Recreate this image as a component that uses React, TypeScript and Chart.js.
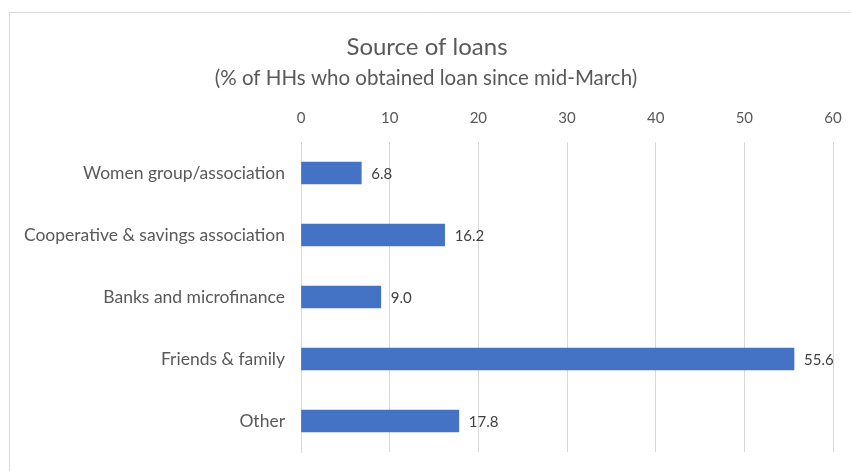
import React, { useEffect, useRef } from "react";
import { Chart, registerables } from "chart.js";

Chart.register(...registerables);

const categories = [
  "Women group/association",
  "Cooperative & savings association",
  "Banks and microfinance",
  "Friends & family",
  "Other",
];
const values = [6.8, 16.2, 9.0, 55.6, 17.8];
const titleText = "Source of loans";
const subtitleText = "(% of HHs who obtained loan since mid-March)";
const xMin = 0;
const xMax = 60;
const xStep = 10;

const FONT = "Lato, 'Open Sans', sans-serif";

const decorPlugin = {
  id: "decor",
  afterDraw(chart: any) {
    const ctx = chart.ctx;
    ctx.save();
    // outer border
    ctx.strokeStyle = "#D9D9D9";
    ctx.lineWidth = 1;
    ctx.beginPath();
    ctx.moveTo(9.5, 471);
    ctx.lineTo(9.5, 12.5);
    ctx.lineTo(851, 12.5);
    ctx.stroke();
    // titles
    ctx.fillStyle = "#595959";
    ctx.textAlign = "center";
    ctx.textBaseline = "middle";
    ctx.font = `24px ${FONT}`;
    ctx.fillText(titleText, 427, 47);
    ctx.font = `20.5px ${FONT}`;
    ctx.fillText(subtitleText, 426, 78);
    // data labels
    const meta = chart.getDatasetMeta(0);
    ctx.font = `15px ${FONT}`;
    ctx.fillStyle = "#404040";
    ctx.textAlign = "left";
    meta.data.forEach((bar: any, i: number) => {
      ctx.fillText(values[i].toFixed(1), bar.x + 10, bar.y + 1);
    });
    ctx.restore();
  },
};

export default function App() {
  const ref = useRef<HTMLCanvasElement>(null);
  useEffect(() => {
    if (!ref.current) return;
    const chart = new Chart(ref.current, {
      type: "bar",
      data: {
        labels: categories,
        datasets: [
          {
            data: values,
            backgroundColor: "#4472C4",
            borderWidth: 0,
            barThickness: 22,
          },
        ],
      },
      plugins: [decorPlugin],
      options: {
        indexAxis: "y",
        animation: false,
        responsive: false,
        layout: { padding: { left: 0, right: 18, top: 0, bottom: 19 } },
        plugins: {
          legend: { display: false },
          tooltip: { enabled: false },
          title: { display: false },
        },
        scales: {
          x: {
            position: "top",
            min: xMin,
            max: xMax,
            ticks: {
              stepSize: xStep,
              color: "#595959",
              font: { family: FONT, size: 15 },
              padding: 15,
            },
            grid: {
              color: "#D9D9D9",
              lineWidth: 1,
              drawTicks: false,
            },
            border: { display: false },
            afterFit: (scale: any) => {
              scale.height = 142;
              scale.paddingLeft = 0;
              scale.paddingRight = 0;
            },
          },
          y: {
            ticks: {
              color: "#595959",
              font: { family: FONT, size: 17.5 },
              padding: 16,
            },
            grid: { display: false, drawTicks: false },
            border: { display: true, color: "#D9D9D9" },
            afterFit: (scale: any) => {
              scale.width = 301;
              scale.paddingTop = 0;
              scale.paddingBottom = 0;
            },
          },
        },
      },
    });
    return () => chart.destroy();
  }, []);
  return (
    <div style={{ position: "fixed", left: 0, top: 0, width: 851, height: 471, background: "#fff" }}>
      <canvas ref={ref} width={851} height={471} />
    </div>
  );
}
